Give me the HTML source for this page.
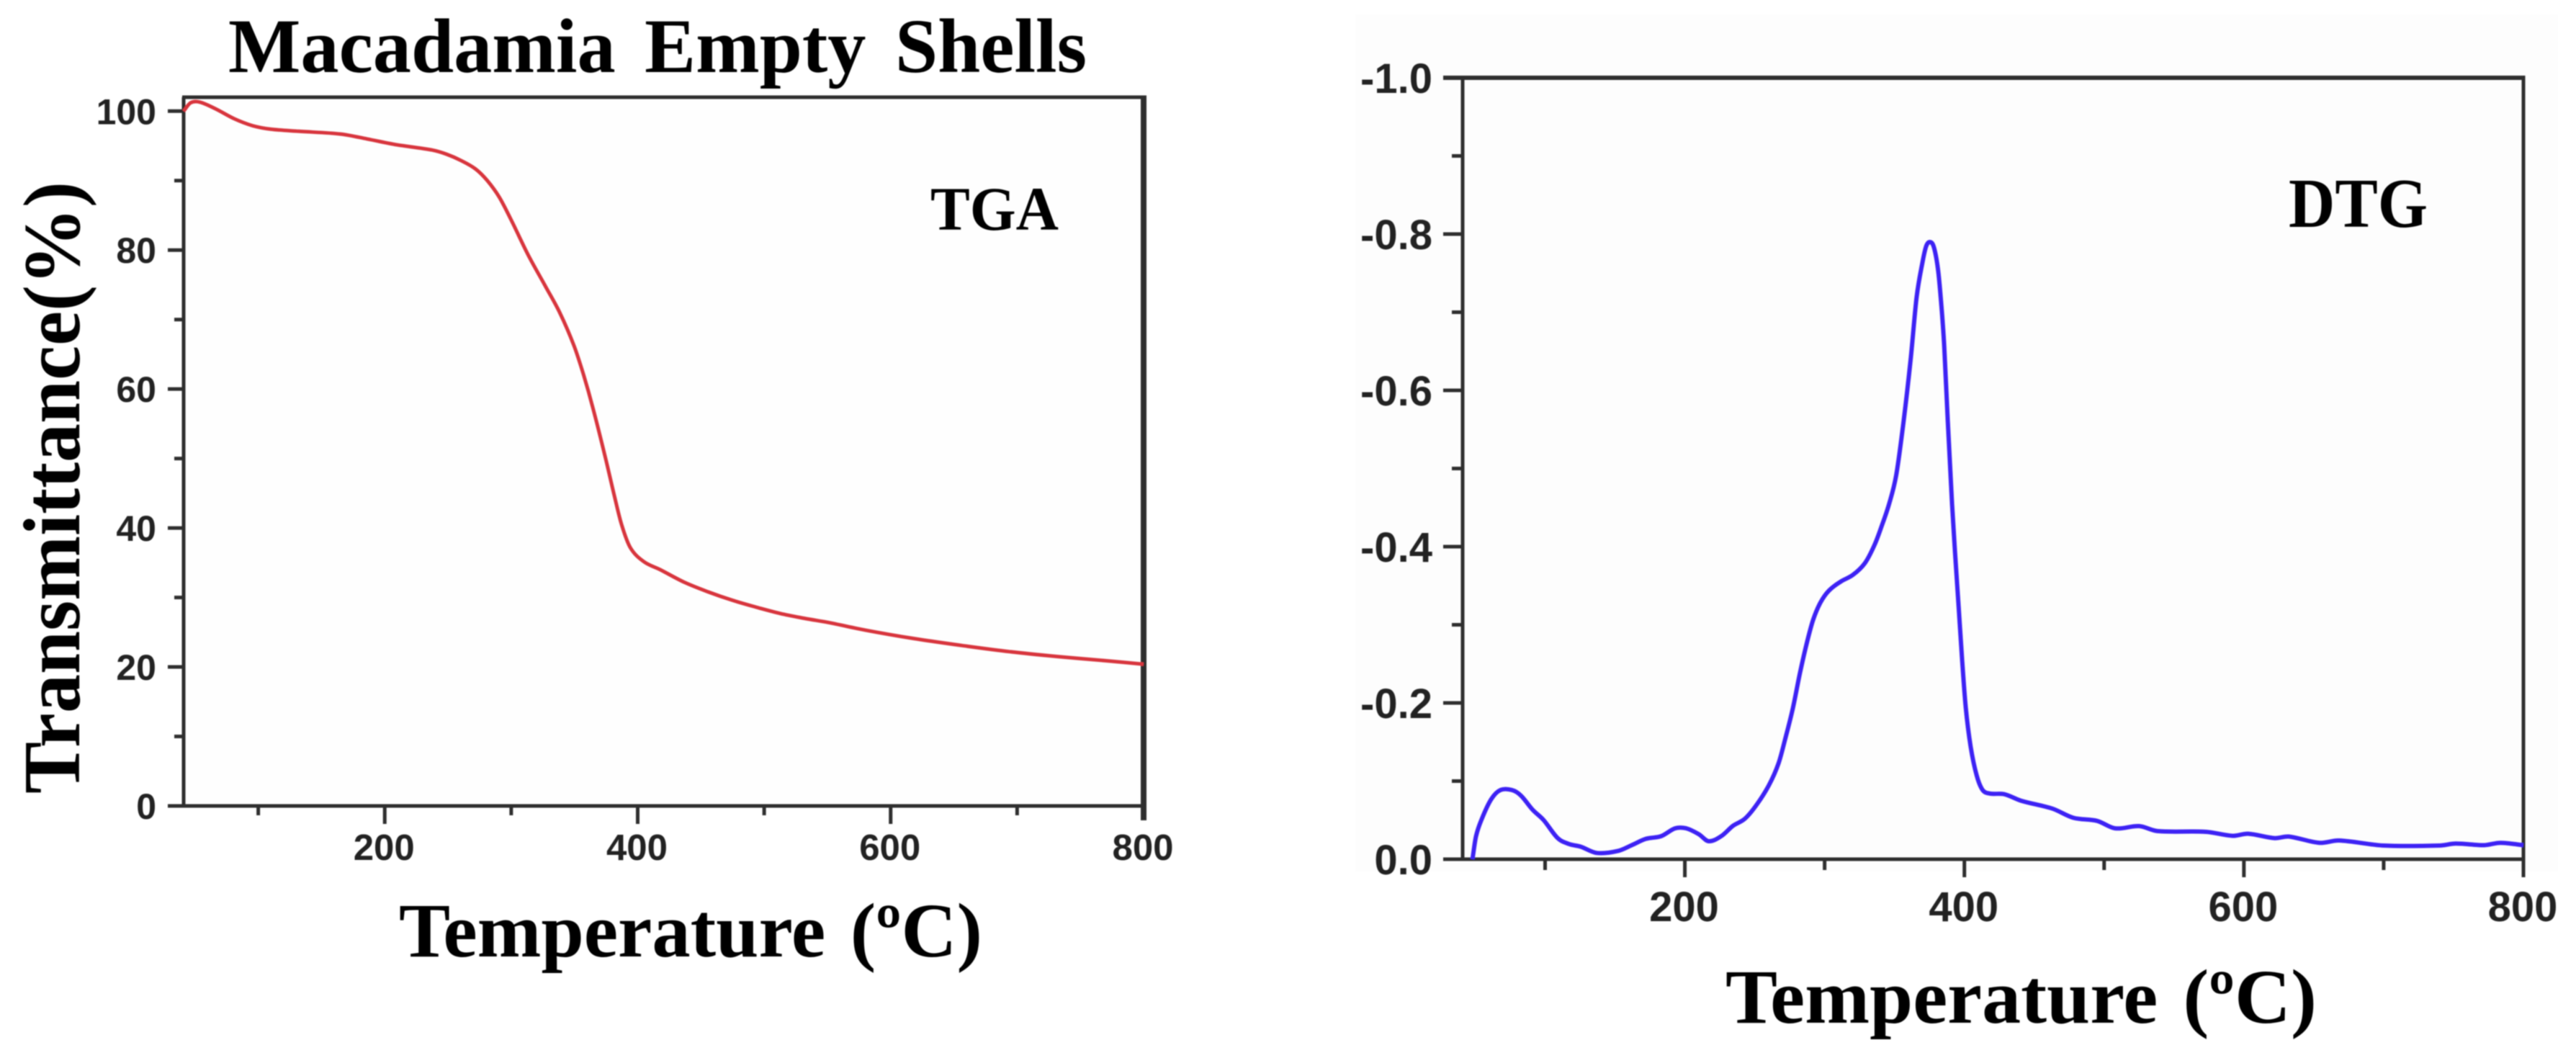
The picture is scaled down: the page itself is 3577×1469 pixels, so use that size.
<!DOCTYPE html>
<html lang="en">
<head>
<meta charset="utf-8">
<title>Macadamia Empty Shells TGA and DTG</title>
<style>
html,body{margin:0;padding:0;background:#fff;width:3577px;height:1469px;overflow:hidden}
svg{display:block}
.serif{font-family:"Liberation Serif",serif;font-weight:bold;fill:#000}
.tick-label{font-family:"Liberation Sans",sans-serif;font-weight:bold;fill:#222}
</style>
</head>
<body>
<svg id="figure" xmlns="http://www.w3.org/2000/svg" width="3577" height="1469" viewBox="0 0 3577 1469">
  <defs>
    <filter id="soft" x="-5%" y="-5%" width="110%" height="110%"><feGaussianBlur stdDeviation="0.9"/></filter>
  </defs>
  <rect x="0" y="0" width="3577" height="1469" fill="#ffffff"/>
  <rect x="1882" y="20" width="1670" height="1190" fill="#fdfdfd"/>
  <rect x="255" y="135" width="1333" height="984" fill="#fefefe"/>
  <g id="layer" filter="url(#soft)">
    <text class="serif" x="317" y="100" font-size="107" textLength="1192" lengthAdjust="spacingAndGlyphs" style="word-spacing:14px">Macadamia Empty Shells</text>
    <text class="serif" transform="translate(110,1102) rotate(-90)" font-size="112" textLength="850" lengthAdjust="spacingAndGlyphs">Transmittance(%)</text>
    <text class="serif" x="554" y="1328" font-size="107" textLength="810" lengthAdjust="spacingAndGlyphs" style="word-spacing:8px">Temperature (ºC)</text>
    <text class="serif" x="1292" y="319" font-size="86" textLength="178" lengthAdjust="spacingAndGlyphs">TGA</text>
    <text class="serif" x="2396" y="1420" font-size="107" textLength="821" lengthAdjust="spacingAndGlyphs" style="word-spacing:8px">Temperature (ºC)</text>
    <text class="serif" x="3178" y="315" font-size="98" textLength="193" lengthAdjust="spacingAndGlyphs">DTG</text>
  </g>
</svg>
<script>
// Shared x-axis ticks (temperature, degrees C)
var xMajorTicks = [200, 400, 600, 800];
var xMinorTicks = [100, 300, 500, 700];

// TGA panel data
var tgaYTicks = [0, 20, 40, 60, 80, 100];
var tgaYLabels = ['0', '20', '40', '60', '80', '100'];
var tgaYMinorTicks = [10, 30, 50, 70, 90];
var tgaTemps = [41, 46.5, 53.8, 66.5, 81, 95.6, 110, 132, 165, 186, 208, 237.5, 248.9, 260.2, 271.6, 281.1, 290.6, 300.1, 313.4, 326.7, 338.1, 349.5, 357.1, 364.7, 374.1, 381.7, 387.4, 394.1, 404.5, 417.8, 436.8, 455.8, 474.8, 493.8, 512.7, 531.7, 550.7, 580, 618, 656, 694, 732, 770, 800];
var tgaValues = [100, 101.2, 101.3, 100.3, 98.9, 97.9, 97.4, 97.1, 96.7, 96.0, 95.2, 94.4, 93.8, 92.9, 91.7, 90.0, 87.6, 84.3, 79.3, 74.9, 71.1, 66.3, 62.1, 57.2, 50.4, 44.5, 40.4, 37.2, 35.2, 34.0, 32.2, 30.8, 29.6, 28.6, 27.7, 27.0, 26.4, 25.3, 24.1, 23.1, 22.2, 21.5, 20.9, 20.4];

// DTG panel data
var dtgYTicks = [0, -0.2, -0.4, -0.6, -0.8, -1.0];
var dtgYLabels = ['0.0', '-0.2', '-0.4', '-0.6', '-0.8', '-1.0'];
var dtgYMinorTicks = [-0.1, -0.3, -0.5, -0.7, -0.9];
var dtgTemps = [48, 50.6, 54.8, 61.5, 68, 76.4, 82.7, 91, 99, 109, 117, 125.5, 137, 152, 162, 172, 183, 193, 201, 210, 217, 226, 234.4, 243, 251.6, 260.2, 267, 272.2, 277.3, 282.5, 287.6, 291.9, 297, 303.1, 311.7, 320.2, 328.9, 335.7, 340.9, 346.1, 351.2, 356.4, 361.5, 365.8, 370.1, 372.7, 375.3, 378.2, 381.3, 383.9, 385.5, 388.1, 391.2, 393.3, 395.9, 398.4, 401, 404.5, 408.8, 413, 418.2, 428.5, 440.5, 462.9, 478, 495, 508, 525, 538, 573, 592, 603, 622, 632, 654, 668, 700, 740, 751.5, 772, 783.5, 800];
var dtgValues = [0, -0.0295, -0.052, -0.077, -0.0885, -0.0885, -0.0815, -0.0635, -0.05, -0.027, -0.0195, -0.016, -0.008, -0.0105, -0.018, -0.026, -0.0295, -0.0395, -0.0395, -0.032, -0.023, -0.0295, -0.0427, -0.0519, -0.0703, -0.0949, -0.1226, -0.1567, -0.1935, -0.2396, -0.2793, -0.3069, -0.3284, -0.3438, -0.3555, -0.3638, -0.3791, -0.4021, -0.4267, -0.4544, -0.4912, -0.5588, -0.6387, -0.7186, -0.7647, -0.7846, -0.7899, -0.7831, -0.7524, -0.7002, -0.6587, -0.5619, -0.4544, -0.3929, -0.3223, -0.2547, -0.1935, -0.1441, -0.1072, -0.0888, -0.0841, -0.0832, -0.0749, -0.0648, -0.053, -0.049, -0.0395, -0.0424, -0.036, -0.035, -0.03, -0.0326, -0.027, -0.029, -0.021, -0.024, -0.0175, -0.0175, -0.02, -0.018, -0.021, -0.018];

var SVG_NS = 'http://www.w3.org/2000/svg';
var layer = document.getElementById('layer');

function linearScale(d0, d1, r0, r1) {
  return function (v) { return r0 + (v - d0) * (r1 - r0) / (d1 - d0); };
}

function makeLine(x1, y1, x2, y2, width, name) {
  var el = document.createElementNS(SVG_NS, 'line');
  el.setAttribute('x1', x1);
  el.setAttribute('y1', y1);
  el.setAttribute('x2', x2);
  el.setAttribute('y2', y2);
  el.setAttribute('stroke', '#2e2e2e');
  el.setAttribute('stroke-width', width);
  
  
  layer.appendChild(el);
}

function makeLabel(x, y, str, size, anchor, name) {
  var el = document.createElementNS(SVG_NS, 'text');
  el.setAttribute('class', 'tick-label');
  el.setAttribute('x', x);
  el.setAttribute('y', y);
  el.setAttribute('font-size', size);
  el.setAttribute('text-anchor', anchor);
  
  
  el.textContent = str;
  layer.appendChild(el);
}

function curvePath(xs, ys, sx, sy) {
  var px = xs.map(sx), py = ys.map(sy), n = px.length, slopes = [];
  for (var i = 0; i < n; i++) {
    var a = Math.max(i - 1, 0), b = Math.min(i + 1, n - 1);
    slopes.push((py[b] - py[a]) / (px[b] - px[a]));
  }
  var d = 'M' + px[0].toFixed(1) + ' ' + py[0].toFixed(1);
  for (var j = 0; j < n - 1; j++) {
    var h = (px[j + 1] - px[j]) / 3;
    d += 'C' + (px[j] + h).toFixed(1) + ' ' + (py[j] + slopes[j] * h).toFixed(1) + ' ' +
      (px[j + 1] - h).toFixed(1) + ' ' + (py[j + 1] - slopes[j + 1] * h).toFixed(1) + ' ' +
      px[j + 1].toFixed(1) + ' ' + py[j + 1].toFixed(1);
  }
  return d;
}

function drawPanel(cfg) {
  var sx = linearScale(41, 800, cfg.left, cfg.right);
  var sy = linearScale(cfg.yBottomValue, cfg.yTopValue, cfg.bottom, cfg.top);
  var p = cfg.prefix;

  makeLine(cfg.left - cfg.topExt, cfg.top, cfg.right + cfg.rightW / 2, cfg.top, cfg.topW, p + '-top-frame');
  makeLine(cfg.left, cfg.top, cfg.left, cfg.bottom, cfg.axisW, p + '-y-axis-line');
  makeLine(cfg.right, cfg.top - cfg.topW / 2, cfg.right, cfg.bottom + cfg.xEndLen, cfg.rightW, p + '-right-frame');
  makeLine(cfg.left - cfg.yMajorLen, cfg.bottom, cfg.right, cfg.bottom, cfg.axisW, p + '-x-axis-line');

  cfg.yTicks.forEach(function (v, i) {
    var y = sy(v);
    if (v !== cfg.yBottomValue && !(v === cfg.yTopValue)) {
      makeLine(cfg.left - cfg.yMajorLen, y, cfg.left, y, 5, p + '-y-major-tick');
    }
    makeLabel(cfg.yLabelX, y + cfg.yLabelDy, cfg.yLabels[i], cfg.fontY, 'end', p + '-y-tick-label');
  });
  cfg.yMinor.forEach(function (v) {
    makeLine(cfg.left - cfg.yMinorLen, sy(v), cfg.left, sy(v), 5, p + '-y-minor-tick');
  });
  xMajorTicks.forEach(function (v) {
    if (v !== 800) {
      makeLine(sx(v), cfg.bottom, sx(v), cfg.bottom + cfg.xMajorLen, 5, p + '-x-major-tick');
    }
    makeLabel(sx(v) - 1, cfg.xLabelY, String(v), cfg.fontX, 'middle', p + '-x-tick-label');
  });
  xMinorTicks.forEach(function (v) {
    makeLine(sx(v), cfg.bottom, sx(v), cfg.bottom + cfg.xMinorLen, 5, p + '-x-minor-tick');
  });

  var path = document.createElementNS(SVG_NS, 'path');
  path.setAttribute('d', curvePath(cfg.temps, cfg.values, sx, sy));
  path.setAttribute('fill', 'none');
  path.setAttribute('stroke', cfg.color);
  path.setAttribute('stroke-width', cfg.lineW);
  path.setAttribute('stroke-linejoin', 'round');
  
  
  layer.appendChild(path);
}

drawPanel({
  prefix: 'tga', left: 255, right: 1588, top: 135, bottom: 1119,
  yBottomValue: 0, yTopValue: 102, yTicks: tgaYTicks, yLabels: tgaYLabels, yMinor: tgaYMinorTicks,
  temps: tgaTemps, values: tgaValues, color: '#d8343c', lineW: 5,
  axisW: 5, topW: 5, rightW: 8, topExt: 2, yMajorLen: 22, yMinorLen: 13, xMajorLen: 25, xMinorLen: 13, xEndLen: 20,
  yLabelX: 217, yLabelDy: 18, xLabelY: 1194, fontY: 50, fontX: 51
});

drawPanel({
  prefix: 'dtg', left: 2031, right: 3504, top: 108, bottom: 1193,
  yBottomValue: 0, yTopValue: -1, yTicks: dtgYTicks, yLabels: dtgYLabels, yMinor: dtgYMinorTicks,
  temps: dtgTemps, values: dtgValues, color: '#3c20f4', lineW: 6,
  axisW: 5, topW: 6, rightW: 5, topExt: 27, yMajorLen: 27, yMinorLen: 15, xMajorLen: 25, xMinorLen: 15, xEndLen: 25,
  yLabelX: 1989, yLabelDy: 21, xLabelY: 1279, fontY: 58, fontX: 58
});
</script>
</body>
</html>
